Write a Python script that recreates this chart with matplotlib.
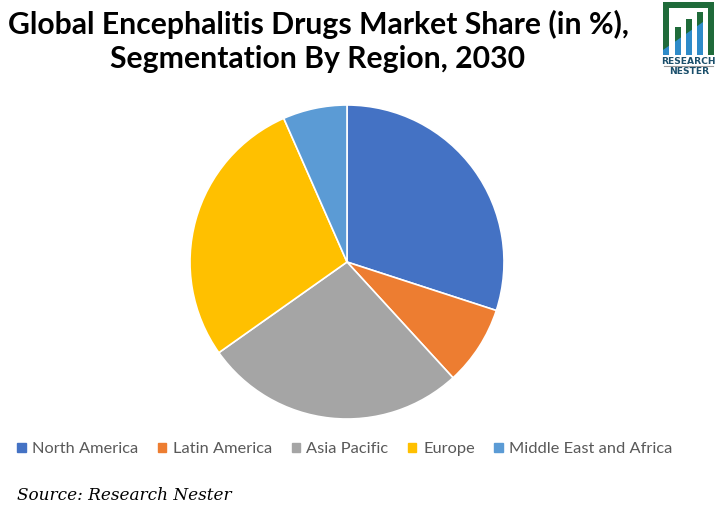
import matplotlib
matplotlib.use("Agg")
import matplotlib.pyplot as plt
from matplotlib.patches import Rectangle, Polygon

# data
regions = ["North America", "Latin America", "Asia Pacific", "Europe", "Middle East and Africa"]
shares = [30.0, 8.2, 27.0, 28.2, 6.6]
colors = ["#4472C4", "#ED7D31", "#A5A5A5", "#FFC000", "#5B9BD5"]

W, H = 718, 508
fig = plt.figure(figsize=(W / 100, H / 100), dpi=100)

# title
fig.text(318 / W, 1 - 24 / H, "Global Encephalitis Drugs Market Share (in %),",
         ha="center", va="center", fontsize=21.7, fontweight="bold", family="Lato")
fig.text(318 / W, 1 - 59 / H, "Segmentation By Region, 2030",
         ha="center", va="center", fontsize=21.7, fontweight="bold", family="Lato")

# pie
cx, cy, r = 347, 262, 157
ax = fig.add_axes([(cx - r) / W, (H - cy - r) / H, 2 * r / W, 2 * r / H])
ax.pie(shares, colors=colors, startangle=90, counterclock=False, radius=1,
       wedgeprops={"edgecolor": "white", "linewidth": 1.2})
ax.set_xlim(-1, 1)
ax.set_ylim(-1, 1)
ax.set_aspect("equal")
ax.axis("off")

# legend
handles = [Rectangle((0, 0), 1, 1, color=c) for c in colors]
fig.legend(handles, regions, loc="center", bbox_to_anchor=(345 / W, 1 - 449 / H),
           ncol=5, frameon=False, handlelength=0.5, handleheight=0.5,
           handletextpad=0.4, columnspacing=1.2, labelcolor="#595959",
           prop={"family": "Lato", "size": 11.8})

# source
fig.text(17 / W, 1 - 496 / H, "Source: Research Nester", ha="left", va="center",
         fontsize=12.2, style="italic", family="DejaVu Serif")

# logo
lg = fig.add_axes([0, 0, 1, 1])
lg.set_xlim(0, W)
lg.set_ylim(H, 0)
lg.axis("off")
green = "#1F6B3A"
blue = "#2E8BC9"
base = 55


def diag(x):
    return 50 - 0.7 * (x - 663)


# frame: left, top, right
pieces = [(663, 669, 2), (675, 681, 27), (686, 692, 19), (697, 703, 12), (708, 714, 2)]
lg.add_patch(Rectangle((663, 2), 51, 6, color=green, linewidth=0))
for i, (x0, x1, top) in enumerate(pieces):
    lg.add_patch(Rectangle((x0, top), x1 - x0, base - top, color=green, linewidth=0))
    if i < 4:
        lg.add_patch(Polygon([(x0, base), (x0, max(top, diag(x0))),
                              (x1, max(top, diag(x1))), (x1, base)],
                             color=blue, linewidth=0))
lg.text(688.5, 62, "RESEARCH", ha="center", va="center", fontsize=6.6,
        fontweight="bold", color="#1B4F6B", family="DejaVu Sans")
lg.plot([664, 713], [66, 66], color="#999999", linewidth=0.8)
lg.text(689, 71, "NESTER", ha="center", va="center", fontsize=6.6,
        fontweight="bold", color="#1B4F6B", family="DejaVu Sans")

plt.savefig("out.png", dpi=100)
